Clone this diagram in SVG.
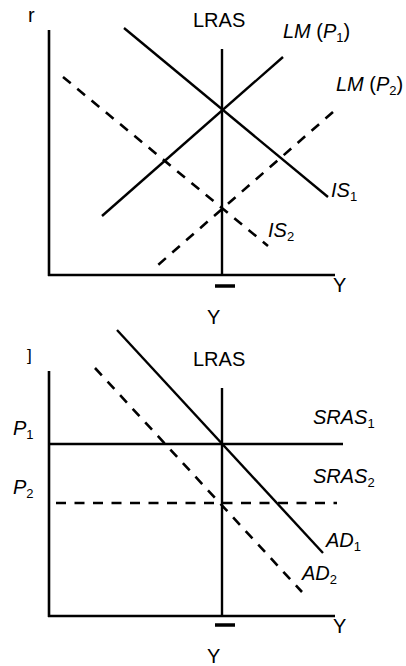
<svg xmlns="http://www.w3.org/2000/svg" width="406" height="666" viewBox="0 0 406 666">
<style>
.ln{stroke:#000;stroke-width:2.4;fill:none}
.ax{stroke:#000;stroke-width:2.6;fill:none}
.ds{stroke:#000;stroke-width:2.6;fill:none;stroke-dasharray:10,8.5}
.tk{stroke:#000;stroke-width:3.5}
text{font-family:"Liberation Sans",Arial,sans-serif;font-size:20px;fill:#000}
.it{font-style:italic}
.sub{font-size:13px;font-style:normal}
</style>
<rect width="406" height="666" fill="#fff"/>
<g id="connectors">
<line class="ax" x1="49" y1="30" x2="49" y2="276"/>
<line class="ax" x1="48" y1="275" x2="335" y2="275"/>
<line class="ln" x1="222" y1="49" x2="222" y2="276"/>
<line class="tk" x1="215" y1="286" x2="235" y2="286"/>
<line class="ln" x1="124" y1="28" x2="328" y2="197"/>
<line class="ln" x1="102" y1="216" x2="283" y2="57"/>
<line class="ds" x1="333" y1="112" x2="158" y2="265"/>
<line class="ds" x1="63" y1="77" x2="268" y2="246"/>
<line class="ax" x1="49" y1="371" x2="49" y2="617"/>
<line class="ax" x1="48" y1="616" x2="335" y2="616"/>
<line class="ln" x1="222" y1="388" x2="222" y2="616"/>
<line class="tk" x1="215" y1="625" x2="235" y2="625"/>
<line class="ln" x1="49" y1="444" x2="343" y2="444"/>
<line class="ds" x1="56" y1="503" x2="337" y2="503"/>
<line class="ln" x1="117" y1="330" x2="323" y2="553"/>
<line class="ds" x1="95" y1="368" x2="302" y2="592"/>
</g>
<g id="top-labels">
<text x="28" y="22">r</text>
<text x="193" y="27">LRAS</text>
<text x="283" y="38"><tspan class="it">LM</tspan> (<tspan class="it">P</tspan><tspan class="sub" dy="4">1</tspan><tspan dy="-4">)</tspan></text>
<text x="336" y="91"><tspan class="it">LM</tspan> (<tspan class="it">P</tspan><tspan class="sub" dy="4">2</tspan><tspan dy="-4">)</tspan></text>
<text x="331" y="197" class="it">IS<tspan class="sub" dy="4">1</tspan></text>
<text x="268" y="237" class="it">IS<tspan class="sub" dy="4">2</tspan></text>
<text x="333" y="292">Y</text>
<text x="207" y="324">Y</text>
</g>
<g id="bottom-labels">
<text x="27" y="361" style="font-size:17px">]</text>
<text x="193" y="366">LRAS</text>
<text x="313" y="424" class="it">SRAS<tspan class="sub" dy="4">1</tspan></text>
<text x="313" y="483" class="it">SRAS<tspan class="sub" dy="4">2</tspan></text>
<text x="13" y="435" class="it">P<tspan class="sub" dy="4">1</tspan></text>
<text x="13" y="494" class="it">P<tspan class="sub" dy="4">2</tspan></text>
<text x="326" y="547" class="it">AD<tspan class="sub" dy="4">1</tspan></text>
<text x="302" y="580" class="it">AD<tspan class="sub" dy="4">2</tspan></text>
<text x="333" y="633">Y</text>
<text x="207" y="663">Y</text>
</g>
</svg>
